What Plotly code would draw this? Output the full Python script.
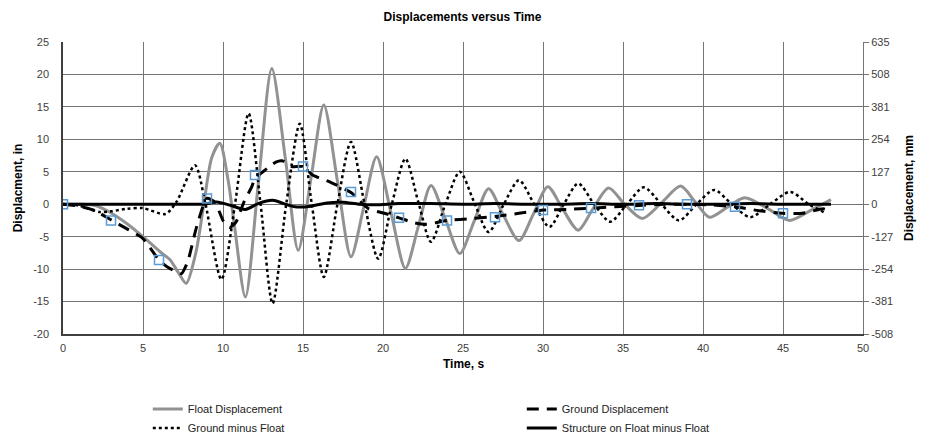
import plotly.graph_objects as go

# ---------------- data ----------------
# Float Displacement (in)
float_t = [0, 1, 2, 2.9, 4, 5, 6.1, 6.7, 7.2, 7.7, 8.3, 8.8, 9.3, 9.8, 10.3, 10.7,
           11.4, 12.2, 13.05, 13.9, 14.7, 15.5, 16.3, 17.15, 18.0, 18.8, 19.6, 20.5,
           21.4, 22.2, 23.0, 23.9, 24.8, 25.7, 26.6, 27.5, 28.5, 29.4, 30.3, 31.2,
           32.2, 33.1, 34.1, 35.1, 36.2, 37.4, 38.6, 39.5, 40.4, 41.5, 42.6, 44.0,
           45.4, 46.7, 48.0]
float_disp = [0, 0, -0.2, -1.2, -3.0, -5.0, -7.4, -8.6, -10.5, -12.2, -7.5, 0, 7.2, 9.4, 4.0, -3.0,
              -14.3, 3.0, 20.9, 7.0, -7.1, 4.0, 15.3, 3.6, -8.1, -0.4, 7.3, -1.3,
              -9.9, -3.5, 2.9, -2.3, -7.6, -2.6, 2.4, -1.6, -5.6, -1.5, 2.7, -0.6,
              -4.0, -0.8, 2.5, 0.0, -2.2, 0.2, 2.8, 0.4, -2.0, -0.5, 1.0, -0.6,
              -2.5, -1.0, 0.7]

# Ground minus Float (in)
gmf_t = [0, 1, 2.3, 3.0, 4.0, 5.0, 6.4, 7.1, 8.25, 8.9, 9.9, 10.75, 11.6, 12.35,
         13.1, 13.95, 14.8, 15.55, 16.3, 17.15, 18.0, 18.85, 19.7, 20.55, 21.4,
         22.2, 23.0, 23.9, 24.8, 25.7, 26.6, 27.55, 28.5, 29.45, 30.4, 31.3, 32.2,
         33.2, 34.2, 35.25, 36.3, 37.4, 38.5, 39.6, 40.7, 41.8, 42.95, 44.2, 45.45,
         46.6, 47.7]
gmf_disp = [0, -0.2, -1.2, -1.1, -0.7, -0.6, -1.5, 0.4, 6.0, 0.1, -11.6, 0.0, 14.0, 0.0,
            -15.3, 0.0, 12.4, 0.0, -11.2, 0.0, 9.6, 0.0, -8.4, 0.0, 7.0,
            0.4, -5.8, 0.0, 5.0, 0.3, -4.3, 0.0, 3.7, 0.0, -3.5, 0.0, 3.2,
            0.0, -2.7, 0.0, 2.6, 0.0, -2.5, 0.0, 2.2, 0.0, -2.0, 0.0, 1.9,
            0.0, -1.4]

# Ground Displacement (in)
ground_t = [0, 1, 2, 3, 4, 5, 6, 6.6, 7.1, 7.4, 7.8, 8.35, 9.0, 9.5, 10.0, 10.4, 10.8,
            11.3, 11.8, 12.0, 12.6, 13.3, 13.7, 14.3, 15.0, 15.6, 16.7, 18.0, 19.1,
            20.1, 21.0, 22.0, 22.7, 24.0, 25.6, 27.0, 28.5, 30.0, 31.5, 33.0, 34.5,
            36.0, 37.5, 39.0, 40.5, 42.0, 43.5, 45.0, 46.2, 47.5, 47.8]
ground_disp = [0, -0.3, -1.0, -2.4, -3.8, -5.3, -8.6, -9.8, -10.4, -10.7, -8.8, -3.5, 0.9, 0.3, -2.5, -3.6, -2.8,
               0.3, 2.7, 4.0, 5.2, 6.5, 6.7, 5.8, 5.8, 4.5, 3.4, 1.8, -0.7,
               -1.4, -2.1, -2.9, -3.1, -2.5, -2.2, -1.9, -1.4, -0.9, -0.8, -0.6, -0.4,
               -0.2, 0.0, 0.0, -0.1, -0.4, -1.0, -1.4, -1.4, -0.7, -0.9]

# Ground Displacement sample markers (every 3 s)
marker_t = [0, 3, 6, 9, 12, 15, 18, 21, 24, 27, 30, 33, 36, 39, 42, 45]
marker_disp = [0, -2.5, -8.6, 0.9, 4.5, 5.8, 1.9, -2.1, -2.5, -2.0, -0.9, -0.6, -0.15, 0.0, -0.4, -1.4]

# Structure on Float minus Float (in)
struct_t = [0, 2, 4, 6, 8, 8.8, 9.6, 10.5, 11.4, 12.2, 13.1, 13.8, 14.5, 15.5, 16.5,
            17.5, 18.5, 19.5, 21, 23, 25, 27, 29, 31, 33, 35, 37, 39, 41, 43, 45, 48]
struct_disp = [0, 0, 0, 0, 0, 0, 0.35, -0.2, -0.8, 0.1, 0.6, 0.1, -0.4, -0.3, 0.2,
               0.3, 0.0, -0.1, 0.1, 0.1, 0.0, 0.1, 0.0, 0.0, 0.1, 0.0, 0.1, 0.0, 0.0, 0.1, 0.0, 0.0]

x_ticks = [0, 5, 10, 15, 20, 25, 30, 35, 40, 45, 50]
x_tick_text = ["0", "5", "10", "15", "20", "25", "30", "35", "40", "45", "50"]
y_in_ticks = [-20, -15, -10, -5, 0, 5, 10, 15, 20, 25]
y_in_text = ["-20", "-15", "-10", "-5", "0", "5", "10", "15", "20", "25"]
y_mm_ticks = [-508, -381, -254, -127, 0, 127, 254, 381, 508, 635]
y_mm_text = ["-508", "-381", "-254", "-127", "0", "127", "254", "381", "508", "635"]
MM_PER_IN = 25.4

# ---------------- figure ----------------
FONT = "Liberation Sans, Arial, sans-serif"
GRID = "#747474"
fig = go.Figure()

# invisible companion trace so the mm axis is drawn
fig.add_trace(go.Scatter(x=float_t, y=[v * MM_PER_IN for v in float_disp], yaxis="y2",
                         mode="lines", line=dict(width=0, color="rgba(0,0,0,0)"),
                         showlegend=False, hoverinfo="skip"))

fig.add_trace(go.Scatter(x=float_t, y=float_disp, name="Float Displacement", mode="lines",
                         line=dict(color="#929292", width=3, shape="spline", smoothing=0.8)))
fig.add_trace(go.Scatter(x=ground_t, y=ground_disp, name="Ground Displacement", mode="lines",
                         line=dict(color="black", width=3, dash="12px,8px", shape="spline", smoothing=0.6)))
fig.add_trace(go.Scatter(x=gmf_t, y=gmf_disp, name="Ground minus Float", mode="lines",
                         line=dict(color="black", width=2.5, dash="dot", shape="spline", smoothing=0.8)))
fig.add_trace(go.Scatter(x=struct_t, y=struct_disp, name="Structure on Float minus Float", mode="lines",
                         line=dict(color="black", width=3, shape="spline", smoothing=0.8)))
fig.add_trace(go.Scatter(x=marker_t, y=marker_disp, mode="markers", showlegend=False,
                         marker=dict(symbol="square-open", size=9, color="#5b9bd5",
                                     line=dict(width=1.5, color="#5b9bd5"))))

fig.update_layout(
    width=925, height=441,
    margin=dict(l=63, r=62, t=42, b=107, autoexpand=False),
    paper_bgcolor="white", plot_bgcolor="white",
    font=dict(family=FONT, size=11, color="#404040"),
    title=dict(text="<b>Displacements versus Time</b>", x=0.5, xanchor="center",
               y=0.962, yanchor="middle", font=dict(family=FONT, size=12, color="black")),
    xaxis=dict(range=[0, 50], tickvals=x_ticks, ticktext=x_tick_text,
               showgrid=True, gridcolor=GRID, gridwidth=1,
               zeroline=False, showline=True, linecolor="#404040", linewidth=2, mirror=False,
               ticks="outside", ticklen=3, tickcolor="rgba(0,0,0,0)",
               tickfont=dict(size=11, color="#404040"), automargin=False),
    yaxis=dict(range=[-20, 25], tickvals=y_in_ticks, ticktext=y_in_text,
               showgrid=True, gridcolor=GRID, gridwidth=1,
               zeroline=False, showline=True, linecolor="#404040", linewidth=1.5,
               ticks="outside", ticklen=10, tickcolor="rgba(0,0,0,0)",
               tickfont=dict(size=11, color="#404040"), automargin=False,
               title=dict(text="<b>Displacment, in</b>", font=dict(size=12, color="black"), standoff=8)),
    yaxis2=dict(range=[-508, 635], tickvals=y_mm_ticks, ticktext=y_mm_text,
                overlaying="y", side="right",
                showgrid=False, zeroline=False, showline=True, linecolor=GRID, linewidth=1,
                ticks="outside", ticklen=5, tickcolor=GRID, automargin=False,
                tickfont=dict(size=11, color="#404040"),
                title=dict(text="<b>Displacement, mm</b>", font=dict(size=12, color="black"), standoff=12)),
    annotations=[dict(text="<b>Time, s</b>", xref="paper", yref="paper", x=0.5, y=-0.103,
                      xanchor="center", yanchor="middle", showarrow=False,
                      font=dict(family=FONT, size=12, color="black"))],
    legend=dict(orientation="h", x=0.106, y=-0.207, xanchor="left", yanchor="top",
                entrywidth=329, tracegroupgap=0, itemwidth=30,
                font=dict(family=FONT, size=11, color="#222222"), bgcolor="rgba(0,0,0,0)"),
    showlegend=True,
)

fig.write_html("out.html", config={"displayModeBar": False},
               post_script="document.body.style.margin='0px';")
